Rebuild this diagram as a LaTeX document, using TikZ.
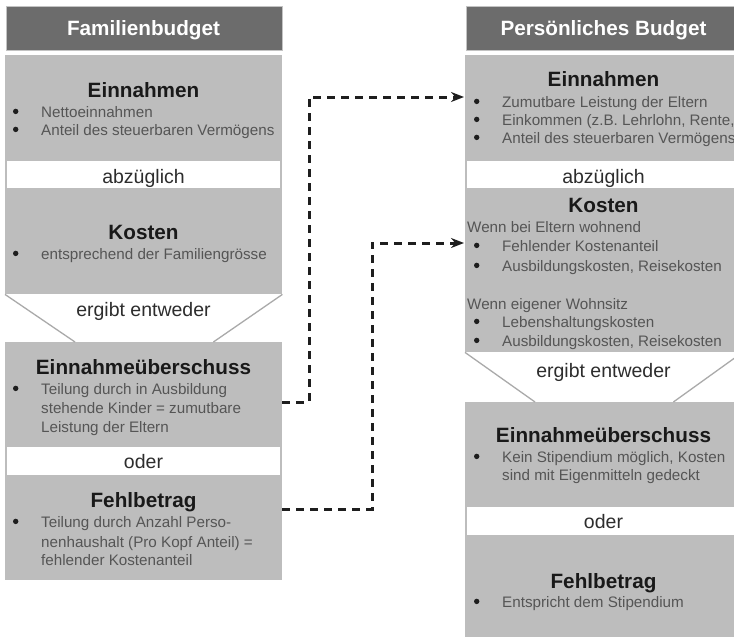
\documentclass[tikz,border=0pt]{standalone}
\usepackage{fontspec}
\setmainfont{Liberation Sans}
\usetikzlibrary{arrows.meta}
\definecolor{hdr}{RGB}{108,108,108}
\definecolor{hdrline}{RGB}{195,195,195}
\definecolor{boxg}{RGB}{189,189,189}
\definecolor{txtg}{RGB}{85,85,85}
\definecolor{heading}{RGB}{25,25,25}
\definecolor{bandc}{RGB}{45,45,45}
\definecolor{bulc}{RGB}{30,30,30}
\definecolor{trap}{RGB}{170,170,170}
\definecolor{arr}{RGB}{30,30,30}
\newcommand\bul{\hspace*{29pt}}
\begin{document}
\begin{tikzpicture}[x=1pt,y=-1pt,
 hdrbox/.style={rectangle, fill=hdr, draw=hdrline, line width=1pt, minimum width=276pt, minimum height=44pt, inner sep=0pt, anchor=north west},
 graybox/.style={rectangle, fill=boxg, minimum width=277pt, inner sep=0pt, anchor=north west},
 bandbox/.style={rectangle, fill=white, minimum width=273pt, minimum height=27pt, inner sep=0pt, anchor=north west},
 hdrtxt/.style={anchor=base, inner sep=0pt, text=white, font=\bfseries\fontsize{20.7}{24}\selectfont},
 headtxt/.style={anchor=base, inner sep=0pt, text=heading, font=\bfseries\fontsize{20.7}{24}\selectfont},
 bandtxt/.style={anchor=base, inner sep=0pt, text=bandc, font=\fontsize{19.5}{22}\selectfont},
 itemtxt/.style={anchor=base west, inner sep=0pt, text=txtg, font=\fontsize{15.2}{19}\selectfont},
 trapline/.style={draw=trap, line width=1.3pt},
 dasharrow/.style={draw=arr, line width=3pt, dash pattern=on 8pt off 6pt, shorten >=1pt, -{Stealth[length=13pt,width=10pt]}}
]
\clip (0,0) rectangle (734,637);
\fill[white] (0,0) rectangle (734,637);
% ---------- left column ----------
\node[hdrbox] (lHead) at (5.5,5.5) {};
\node[hdrtxt] (lHeadT) at (143.5,35) {Familienbudget};
\node[graybox, minimum height=239pt] (lTop) at (5,55) {};
\node[bandbox] (lAbz) at (7,161) {};
\node[graybox, minimum height=238pt] (lRes) at (5,342) {};
\node[bandbox, minimum height=28pt] (lOder) at (7,447) {};
\draw[trapline] (lTop.south west) -- ([xshift=70pt]lRes.north west);
\draw[trapline] (lTop.south east) -- ([xshift=-69pt]lRes.north east);
\node[headtxt] (lEinT) at (143.5,97) {Einnahmen};
\node[itemtxt] (lEin1) at (12,117) {\bul Nettoeinnahmen};
\node[itemtxt] (lEin2) at (12,135) {\bul Anteil des steuerbaren Vermögens};
\node[bandtxt] (lAbzT) at (143.5,183) {abzüglich};
\node[headtxt] (lKosT) at (143.5,239) {Kosten};
\node[itemtxt] (lKos1) at (12,259) {\bul entsprechend der Familiengrösse};
\node[bandtxt] (lErgT) at (143.5,316) {ergibt entweder};
\node[headtxt] (lEuT) at (143.5,374) {Einnahmeüberschuss};
\node[itemtxt] (lEu1) at (12,394) {\bul Teilung durch in Ausbildung};
\node[itemtxt] (lEu2) at (41,413) {stehende Kinder = zumutbare};
\node[itemtxt] (lEu3) at (41,432) {Leistung der Eltern};
\node[bandtxt] (lOderT) at (143.5,468) {oder};
\node[headtxt] (lFbT) at (143.5,507) {Fehlbetrag};
\node[itemtxt] (lFb1) at (12,527) {\bul Teilung durch Anzahl Perso-};
\node[itemtxt] (lFb2) at (41,547) {nenhaushalt (Pro Kopf Anteil) =};
\node[itemtxt] (lFb3) at (41,565) {fehlender Kostenanteil};
% ---------- right column ----------
\node[hdrbox] (rHead) at (465.5,5.5) {};
\node[hdrtxt] (rHeadT) at (603.5,35) {Persönliches Budget};
\node[graybox, minimum height=297pt] (rTop) at (465,55) {};
\node[bandbox] (rAbz) at (467,161) {};
\node[graybox, minimum height=240pt] (rRes) at (465,402) {};
\node[bandbox, minimum height=28pt] (rOder) at (467,507) {};
\draw[trapline] (rTop.south west) -- ([xshift=70pt]rRes.north west);
\draw[trapline] (rTop.south east) -- ([xshift=-69pt]rRes.north east);
\node[headtxt] (rEinT) at (603.5,86) {Einnahmen};
\node[itemtxt] (rEin1) at (473,107) {\bul Zumutbare Leistung der Eltern};
\node[itemtxt] (rEin2) at (473,125) {\bul Einkommen (z.B. Lehrlohn, Rente,};
\node[itemtxt] (rEin3) at (473,143) {\bul Anteil des steuerbaren Vermögens};
\node[bandtxt] (rAbzT) at (603.5,183) {abzüglich};
\node[headtxt] (rKosT) at (603.5,212) {Kosten};
\node[itemtxt] (rKosA) at (467,232) {Wenn bei Eltern wohnend};
\node[itemtxt] (rKos1) at (473,251) {\bul Fehlender Kostenanteil};
\node[itemtxt] (rKos2) at (473,271) {\bul Ausbildungskosten, Reisekosten};
\node[itemtxt] (rKosB) at (467,309) {Wenn eigener Wohnsitz};
\node[itemtxt] (rKos3) at (473,327) {\bul Lebenshaltungskosten};
\node[itemtxt] (rKos4) at (473,346) {\bul Ausbildungskosten, Reisekosten};
\node[bandtxt] (rErgT) at (603.5,377) {ergibt entweder};
\node[headtxt] (rEuT) at (603.5,442) {Einnahmeüberschuss};
\node[itemtxt] (rEu1) at (473,462) {\bul Kein Stipendium möglich, Kosten};
\node[itemtxt] (rEu2) at (502,480) {sind mit Eigenmitteln gedeckt};
\node[bandtxt] (rOderT) at (603.5,528) {oder};
\node[headtxt] (rFbT) at (603.5,588) {Fehlbetrag};
\node[itemtxt] (rFb1) at (473,607) {\bul Entspricht dem Stipendium};
% ---------- bullets ----------
\foreach \n in {lEin1,lEin2,lKos1,lEu1,lFb1,rEin1,rEin2,rEin3,rKos1,rKos2,rKos3,rKos4,rEu1,rFb1}
  \fill[bulc] ([xshift=3.7pt,yshift=5.6pt]\n.base west) circle (2.7pt);
% ---------- connectors ----------
\coordinate (c1) at (309,402);
\coordinate (c2) at (309,97);
\coordinate (c3) at (372,509);
\coordinate (c4) at (372,243);
\draw[dasharrow] (lRes.east |- c1) -- (c1) -- (c2) -- (rTop.west |- c2);
\draw[dasharrow] (lRes.east |- c3) -- (c3) -- (c4) -- (rTop.west |- c4);
\end{tikzpicture}
\end{document}
